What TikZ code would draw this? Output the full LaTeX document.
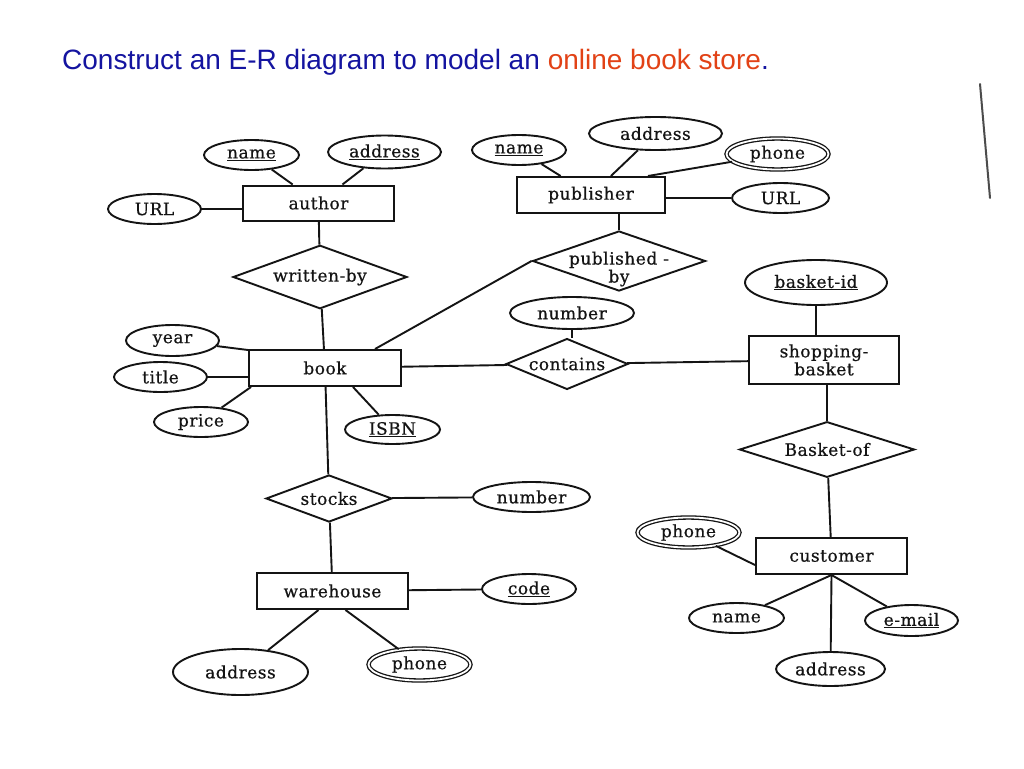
\documentclass[tikz,border=0pt]{standalone}
\usepackage{fontspec}
\usetikzlibrary{shapes.geometric,calc}
\newfontfamily\erfont[LetterSpace=3,FakeBold=0.6]{DejaVu Serif}
\newfontfamily\headfont{Liberation Sans}
\definecolor{tblue}{RGB}{20,20,160}
\definecolor{torange}{RGB}{226,66,22}
\definecolor{ink}{RGB}{20,20,20}
\tikzset{
  sz/.style 2 args={minimum width=#1pt, minimum height=#2pt},
  erbase/.style={draw=ink, inner sep=0pt, align=center, text=ink,
    font=\erfont\fontsize{17}{18}\selectfont},
  ent/.style={erbase, rectangle, line width=2pt},
  attr/.style={erbase, ellipse, line width=1.9pt},
  multi/.style={erbase, ellipse, double, double distance=1.8pt, line width=1.3pt},
  rel/.style={erbase, diamond, aspect=2, line width=1.9pt},
  conn/.style={draw=ink, line width=1.9pt},
}
\begin{document}
\begin{tikzpicture}[x=1pt,y=-1pt]
\useasboundingbox (0,0) rectangle (1024,768);
\fill[white] (0,0) rectangle (1024,768);

% title
\node[anchor=base west, inner sep=0pt, font=\headfont\fontsize{28}{30}\selectfont] (heading) at (62,69)
  {\textcolor{tblue}{Construct an E-R diagram to model an} \textcolor{torange}{online book store}\textcolor{tblue}{.}};

% author
\node[ent, sz={151}{35}] (author) at (318.5,203) {author};
\node[attr, sz={95}{30}] (aname) at (251.5,155) {\underline{name}};
\node[attr, sz={113}{33}] (aaddr) at (384.5,152) {\underline{address}};
\node[attr, sz={93}{30}] (aurl) at (154.5,209) {URL};
\node[rel, sz={174}{58}] (wb) at (320,277) {written-by};

% publisher
\node[ent, sz={148}{36}] (pub) at (591,195) {publisher};
\node[attr, sz={94}{30}] (pname) at (519,150) {\underline{name}};
\node[attr, sz={133}{33}] (paddr) at (655.5,133.5) {address};
\node[multi, sz={102}{31}] (pphone) at (777.5,154) {phone};
\node[attr, sz={97}{30}] (purl) at (780.5,198) {URL};
\node[rel, sz={173}{60}, label={[erbase, draw=none, align=center, yshift=-8pt]center:published -\\by}] (pubby) at (619,261) {};

% book
\node[ent, sz={152}{36}] (book) at (325,368) {book};
\node[attr, sz={93}{31}] (year) at (172.5,340.5) {year};
\node[attr, sz={93}{30}] (btitle) at (160.5,377) {title};
\node[attr, sz={94}{30}] (price) at (201,422) {price};
\node[attr, sz={95}{29}] (isbn) at (392.5,429.5) {\underline{ISBN}};

% contains / shopping basket
\node[rel, sz={122}{46}] (contains) at (567,364) {contains};
\node[attr, sz={124}{32}] (cnum) at (572,313) {number};
\node[ent, sz={150}{48}] (sb) at (824,360) {shopping-\\basket};
\node[attr, sz={142}{45}] (bid) at (816,282.5) {\underline{basket-id}};
\node[rel, sz={175}{55}] (bof) at (827,449.5) {Basket-of};

% customer
\node[ent, sz={151}{36}] (cust) at (831.5,556) {customer};
\node[multi, sz={102}{30}] (cphone) at (688.5,532.5) {phone};
\node[attr, sz={95}{30}] (cname) at (736.5,618) {name};
\node[attr, sz={109}{34}] (caddr) at (830.5,669) {address};
\node[attr, sz={93}{31}] (cemail) at (911.5,620.5) {\underline{e-mail}};

% stocks / warehouse
\node[rel, sz={126}{47}] (stocks) at (329,498.5) {stocks};
\node[attr, sz={117}{30}] (snum) at (531.5,497) {number};
\node[ent, sz={151}{36}] (wh) at (332.5,591) {warehouse};
\node[attr, sz={94}{30}] (code) at (529,589) {\underline{code}};
\node[attr, sz={135}{46}] (waddr) at (240.5,672) {address};
\node[multi, sz={102}{32}] (wphone) at (419.5,664.5) {phone};

% connectors: author
\draw[conn] (aname) -- (author);
\draw[conn] (aaddr) -- (author);
\draw[conn] (aurl) -- (aurl -| author.west);
\draw[conn] (author) -- (wb);
\draw[conn] (wb) -- (book);

% connectors: publisher
\draw[conn] (pname) -- (pub);
\draw[conn] (paddr) -- (pub);
\draw[conn] (pphone) -- ($(pub.north east)+(-18,0)$);
\draw[conn] (purl) -- (purl -| pub.east);
\draw[conn] (pubby.north) -- (pubby.north |- pub.south);
\draw[conn] (pubby.west) -- ($(book.north)+(50,0)$);

% connectors: book
\draw[conn] (year) -- ($(book.north west)+(0,1)$);
\draw[conn] (btitle) -- (btitle -| book.west);
\draw[conn] (price) -- ($(book.south west)+(3,0)$);
\draw[conn] (isbn) -- ($(book.south)+(28,0)$);
\draw[conn] (book) -- (contains);
\draw[conn] (book) -- (stocks);

% connectors: contains / basket
\draw[conn] (cnum.south) -- (cnum.south |- contains.north);
\draw[conn] (contains) -- (sb);
\draw[conn] (bid) -- (bid |- sb.north);
\draw[conn] (sb.south -| bof.north) -- (bof.north);
\draw[conn] (bof) -- (cust);

% connectors: customer
\draw[conn] (cphone) -- ($(cust.west)+(0,9)$);
\draw[conn] (cust.south) -- (cname);
\draw[conn] (cust.south) -- (caddr);
\draw[conn] (cust.south) -- (cemail);

% connectors: stocks / warehouse
\draw[conn] (stocks) -- (snum);
\draw[conn] (stocks) -- (wh);
\draw[conn] (wh) -- (code);
\draw[conn] ($(wh.south)+(-14,0)$) -- (waddr);
\draw[conn] ($(wh.south)+(13,0)$) -- (wphone);

% scanner edge mark
\draw[line width=2pt, black!70, line cap=round] (980,84) -- (990,198);
\end{tikzpicture}
\end{document}
